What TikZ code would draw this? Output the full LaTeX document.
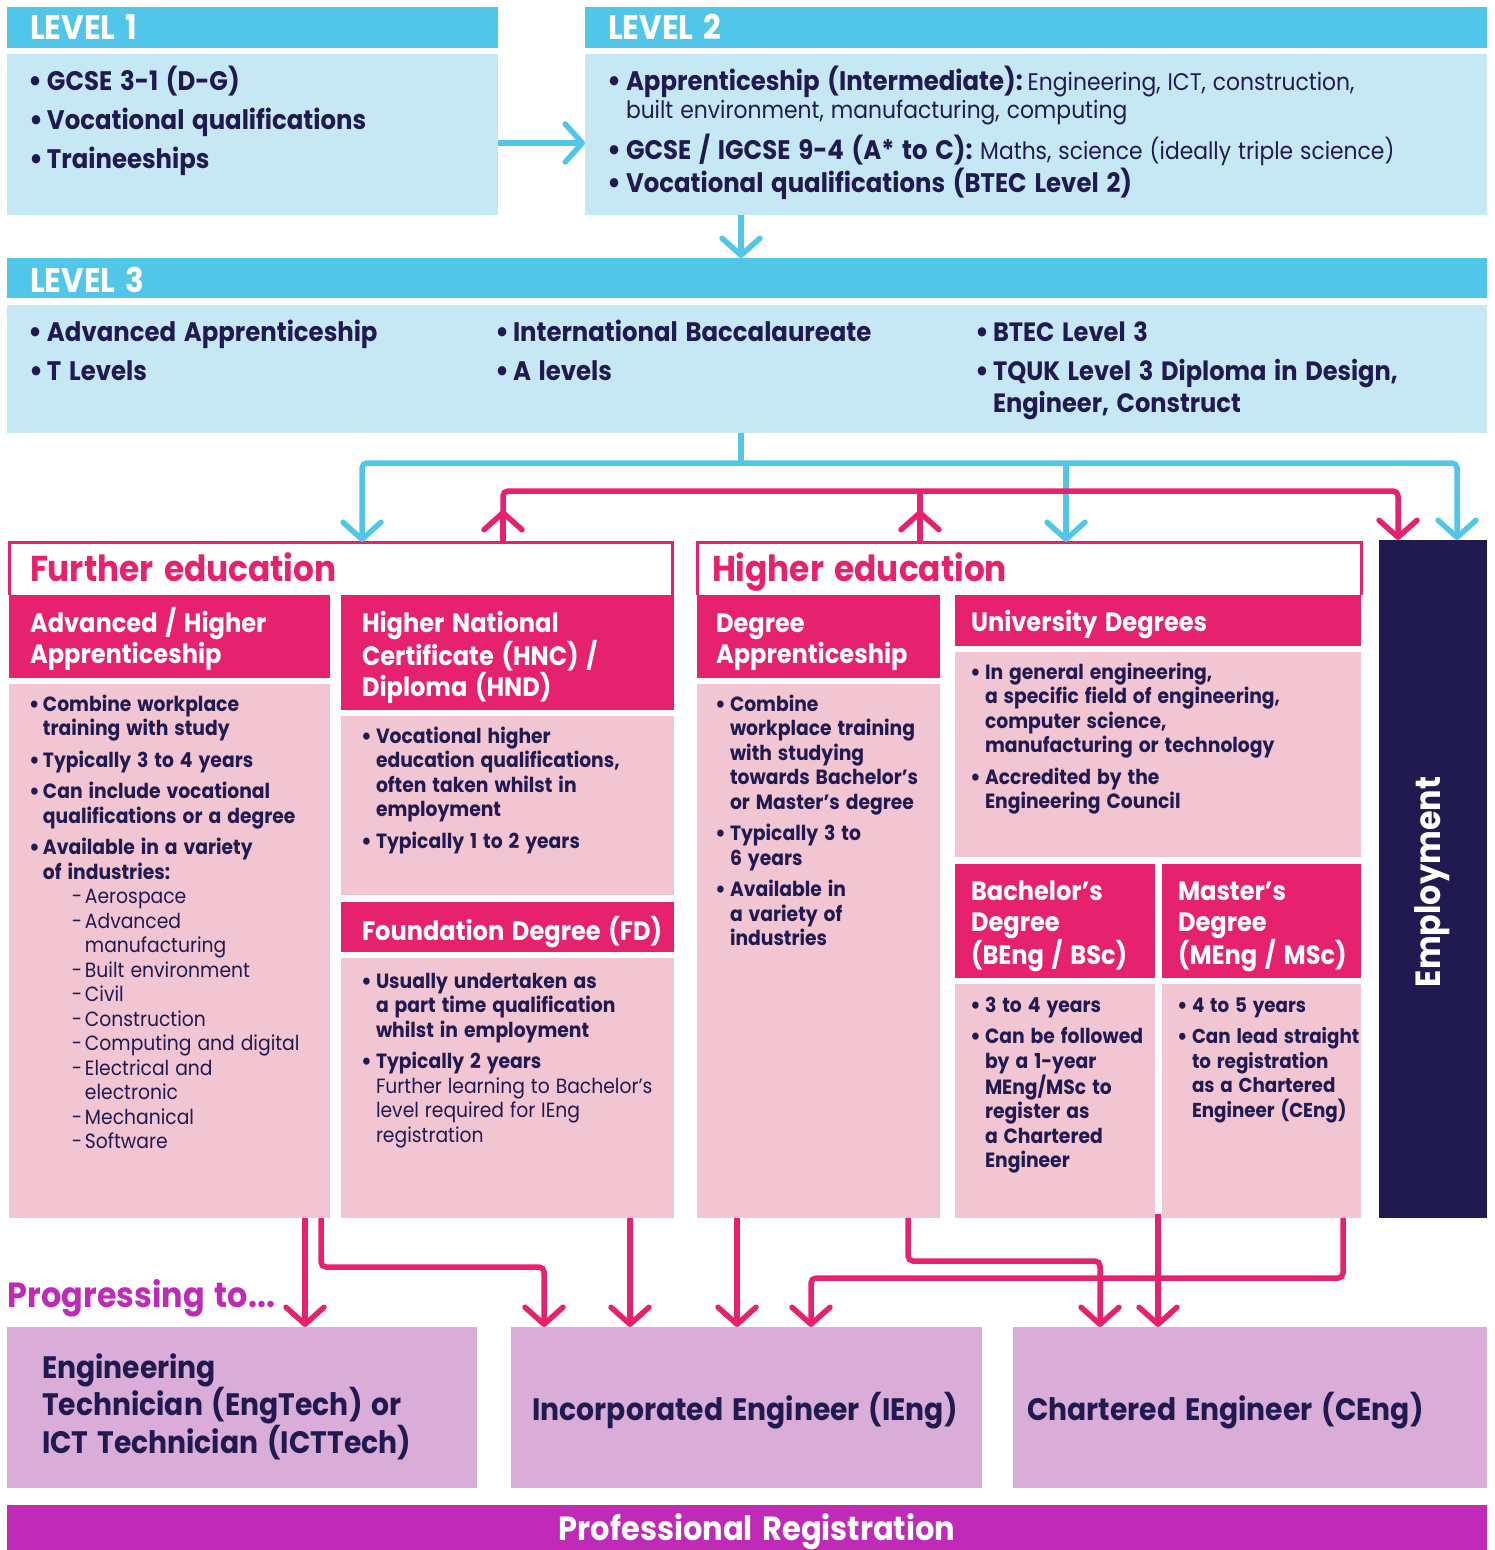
\documentclass[tikz,border=0pt]{standalone}
\usepackage{fontspec}
\usepackage{graphicx}
\setmainfont{Poppins}[FakeStretch=0.91]
\usetikzlibrary{arrows.meta}
\definecolor{cyanH}{HTML}{52C6E9}
\definecolor{lblue}{HTML}{C6E8F4}
\definecolor{pinkM}{HTML}{E6226F}
\definecolor{lpink}{HTML}{F2C5D2}
\definecolor{navy}{HTML}{201A50}
\definecolor{lav}{HTML}{DAADD8}
\definecolor{purp}{HTML}{BF2AB6}
\newcommand\wsp{\spaceskip=0.29em plus 0.1em minus 0.05em\relax}
\newcommand\bulsym{\raisebox{-0.05em}{\scalebox{1.15}{\textbullet}}}
\newcommand\bitem[2][13pt]{\hangindent=#1\relax\hangafter=1\noindent\makebox[#1][l]{\hspace{-1pt}\bulsym}#2}
\newcommand\sitem[1]{\hangindent=55pt\relax\hangafter=1\noindent\hspace*{42pt}\makebox[13pt][l]{-}#1}
\newcommand\igap[1][7pt]{\par\vspace{#1}}
\newcommand\fBody{\fontsize{20.6}{24.5}\selectfont\bfseries\wsp}
\newcommand\fHead{\fontsize{34}{36}\selectfont\bfseries\wsp}
\newcommand\fSub{\fontsize{26.5}{31.5}\selectfont\bfseries\wsp}
\newcommand\fLev{\fontsize{26.8}{39}\selectfont\bfseries\wsp}
\newcommand\fBig{\fontsize{31}{36.5}\selectfont\bfseries\wsp}
\newcommand\fLt{\mdseries\fontsize{24}{28}\selectfont\wsp}
\begin{document}
\begin{tikzpicture}[x=1pt,y=-1pt,
  box/.style={anchor=north west, inner sep=0pt, outer sep=0pt, draw=none},
  txt/.style={anchor=base west, inner sep=0pt, outer sep=0pt, align=left, text=navy},
  cline/.style={draw=cyanH, line width=5.5pt, rounded corners=5pt},
  pline/.style={draw=pinkM, line width=5.5pt, rounded corners=5pt},
  tip/.style={-{Straight Barb[length=17pt,width=38pt,round]}},
  dtip/.style={{Straight Barb[length=17pt,width=38pt,round]}-{Straight Barb[length=17pt,width=38pt,round]}},
  outl/.style={draw=pinkM, line width=3pt}
]
\useasboundingbox (0,0) rectangle (1494,1550);
% ---------- Level boxes
\node[box, fill=cyanH, minimum width=491pt, minimum height=41pt] (l1h) at (7,7) {};
\node[box, fill=lblue, minimum width=491pt, minimum height=161pt] (l1b) at (7,54) {};
\node[box, fill=cyanH, minimum width=902pt, minimum height=41pt] (l2h) at (585,7) {};
\node[box, fill=lblue, minimum width=902pt, minimum height=161pt] (l2b) at (585,54) {};
\node[box, fill=cyanH, minimum width=1480pt, minimum height=40pt] (l3h) at (7,258) {};
\node[box, fill=lblue, minimum width=1480pt, minimum height=128pt] (l3b) at (7,305) {};
\node[txt, text=white] (l1ht) at (30,39) {\fHead LEVEL 1};
\node[txt, text=white] (l2ht) at (608,39) {\fHead LEVEL 2};
\node[txt, text=white] (l3ht) at (30,292) {\fHead LEVEL 3};
\node[txt, text width=460pt] (l1t) at (30,90) {\fLev
  \bitem[17pt]{GCSE 3-1 (D-G)}\par
  \bitem[17pt]{Vocational qualifications}\par
  \bitem[17pt]{Traineeships}\par};
\node[txt, text width=880pt] (l2ta) at (608,90) {\fontsize{26.8}{28}\selectfont\bfseries\wsp
  \bitem[18pt]{Apprenticeship (Intermediate): {\fLt Engineering, ICT, construction,\newline built environment, manufacturing, computing}}\par};
\node[txt, text width=880pt] (l2tb) at (608,159) {\fontsize{26.8}{28}\selectfont\bfseries\wsp
  \bitem[18pt]{GCSE / IGCSE 9-4 (A* to C): {\fLt Maths, science (ideally triple science)}}\par};
\node[txt, text width=880pt] (l2tc) at (608,192) {\fontsize{26.8}{28}\selectfont\bfseries\wsp
  \bitem[18pt]{Vocational qualifications (BTEC Level 2)}\par};
\node[txt, text width=460pt] (l3ta) at (30,341) {\fLev
  \bitem[17pt]{Advanced Apprenticeship}\par
  \bitem[17pt]{T Levels}\par};
\node[txt, text width=460pt] (l3tb) at (496,341) {\fLev
  \bitem[17pt]{International Baccalaureate}\par
  \bitem[17pt]{A levels}\par};
\node[txt, text width=500pt] (l3tc) at (976,341) {\fontsize{26.5}{32}\selectfont\bfseries\wsp
  \bitem[17pt]{BTEC Level 3}\igap
  \bitem[17pt]{TQUK Level 3 Diploma in Design,\newline Engineer, Construct}\par};
% ---------- Further / Higher education
\node[box, minimum width=663pt, minimum height=53pt] (fe) at (9,542) {};
\node[box, minimum width=664pt, minimum height=53pt] (he) at (697,542) {};
\draw[outl] (fe.south west) -- (fe.north west) -- (fe.north east) -- (fe.south east);
\draw[outl] (he.south west) -- (he.north west) -- (he.north east) -- (he.south east);
\node[txt, text=pinkM] (fet) at (30,581) {\fontsize{36}{40}\selectfont\bfseries\wsp Further education};
\node[txt, text=pinkM] (het) at (712,581) {\fontsize{36}{40}\selectfont\bfseries\wsp Higher education};
\node[box, fill=pinkM, minimum width=321pt, minimum height=83pt] (aah) at (9,595) {};
\node[box, fill=lpink, minimum width=321pt, minimum height=534pt] (aab) at (9,684) {};
\node[box, fill=pinkM, minimum width=333pt, minimum height=115pt] (hnch) at (341,595) {};
\node[box, fill=lpink, minimum width=333pt, minimum height=179pt] (hncb) at (341,716) {};
\node[box, fill=pinkM, minimum width=333pt, minimum height=50pt] (fdh) at (341,902) {};
\node[box, fill=lpink, minimum width=333pt, minimum height=260pt] (fdb) at (341,958) {};
\node[box, fill=pinkM, minimum width=243pt, minimum height=83pt] (dah) at (697,595) {};
\node[box, fill=lpink, minimum width=243pt, minimum height=534pt] (dab) at (697,684) {};
\node[box, fill=pinkM, minimum width=406pt, minimum height=51pt] (udh) at (955,595) {};
\node[box, fill=lpink, minimum width=406pt, minimum height=205pt] (udb) at (955,652) {};
\node[box, fill=pinkM, minimum width=200pt, minimum height=114pt] (bah) at (955,864) {};
\node[box, fill=lpink, minimum width=200pt, minimum height=234pt] (bab) at (955,984) {};
\node[box, fill=pinkM, minimum width=199pt, minimum height=114pt] (mah) at (1162,864) {};
\node[box, fill=lpink, minimum width=199pt, minimum height=234pt] (mab) at (1162,984) {};
\node[box, fill=navy, minimum width=108pt, minimum height=678pt] (emp) at (1379,540) {};
\node[rotate=90, text=white, inner sep=0pt] (empt) at (1432,882) {\fontsize{35}{40}\selectfont\bfseries Employment};
% sub headers
\node[txt, text=white, text width=400pt] (aaht) at (30,632) {\fSub Advanced / Higher\\Apprenticeship\par};
\node[txt, text=white, text width=400pt] (hncht) at (362,632) {\fSub Higher National\\Certificate (HNC) /\\Diploma (HND)\par};
\node[txt, text=white, text width=400pt] (fdht) at (362,940) {\fSub Foundation Degree (FD)\par};
\node[txt, text=white, text width=400pt] (daht) at (716,632) {\fSub Degree\\Apprenticeship\par};
\node[txt, text=white, text width=400pt] (udht) at (971,631) {\fSub University Degrees\par};
\node[txt, text=white, text width=300pt] (baht) at (971,900) {\fSub Bachelor's\\Degree\\(BEng / BSc)\par};
\node[txt, text=white, text width=300pt] (maht) at (1178,900) {\fSub Master's\\Degree\\(MEng / MSc)\par};
% bodies
\node[txt, text width=400pt] (aabt) at (30,711) {\fBody
  \bitem{Combine workplace\newline training with study}\igap
  \bitem{Typically 3 to 4 years}\igap
  \bitem{Can include vocational\newline qualifications or a degree}\igap
  \bitem{Available in a variety\newline of industries:}\par\mdseries
  \sitem{Aerospace}\par
  \sitem{Advanced\newline manufacturing}\par
  \sitem{Built environment}\par
  \sitem{Civil}\par
  \sitem{Construction}\par
  \sitem{Computing and digital}\par
  \sitem{Electrical and\newline electronic}\par
  \sitem{Mechanical}\par
  \sitem{Software}\par};
\node[txt, text width=400pt] (hncbt) at (362,743) {\fBody
  \bitem[14pt]{Vocational higher\newline education qualifications,\newline often taken whilst in\newline employment}\igap
  \bitem[14pt]{Typically 1 to 2 years}\par};
\node[txt, text width=400pt] (fdbt) at (362,988) {\fBody
  \bitem[14pt]{Usually undertaken as\newline a part time qualification\newline whilst in employment}\igap
  \bitem[14pt]{Typically 2 years\newline {\mdseries Further learning to Bachelor's\newline level required for IEng\newline registration}}\par};
\node[txt, text width=400pt] (dabt) at (716,711) {\fBody
  \bitem[14pt]{Combine\newline workplace training\newline with studying\newline towards Bachelor's\newline or Master's degree}\igap
  \bitem[14pt]{Typically 3 to\newline 6 years}\igap
  \bitem[14pt]{Available in\newline a variety of\newline industries}\par};
\node[txt, text width=400pt] (udbt) at (971,679) {\fBody
  \bitem[14pt]{In general engineering,\newline a specific field of engineering,\newline computer science,\newline manufacturing or technology}\igap
  \bitem[14pt]{Accredited by the\newline Engineering Council}\par};
\node[txt, text width=300pt] (babt) at (971,1012) {\fBody
  \bitem[14pt]{3 to 4 years}\igap
  \bitem[14pt]{Can be followed\newline by a 1-year\newline MEng/MSc to\newline register as\newline a Chartered\newline Engineer}\par};
\node[txt, text width=300pt] (mabt) at (1178,1012) {\fontsize{20.1}{24.5}\selectfont\bfseries\wsp
  \bitem[14pt]{4 to 5 years}\igap
  \bitem[14pt]{Can lead straight\newline to registration\newline as a Chartered\newline Engineer (CEng)}\par};
% ---------- bottom
\node[txt, text=purp] (prog) at (8,1307) {\fontsize{35}{40}\selectfont\bfseries\wsp Progressing to...};
\node[box, fill=lav, minimum width=470pt, minimum height=161pt] (et) at (7,1327) {};
\node[box, fill=lav, minimum width=471pt, minimum height=161pt] (ie) at (511,1327) {};
\node[box, fill=lav, minimum width=474pt, minimum height=161pt] (ce) at (1013,1327) {};
\node[box, fill=purp, minimum width=1480pt, minimum height=45pt] (pr) at (7,1505) {};
\node[txt, text width=440pt] (ett) at (42,1378) {\fBig Engineering\\Technician (EngTech) or\\ICT Technician (ICTTech)\par};
\node[anchor=base, inner sep=0pt, text=navy] (iet) at (745,1420) {\fBig Incorporated Engineer (IEng)};
\node[txt] (cet) at (1027,1420) {\fBig Chartered Engineer (CEng)};
\node[anchor=base, inner sep=0pt, text=white] (prt) at (757,1540) {\fontsize{33.5}{38}\selectfont\bfseries\wsp Professional Registration};
% ---------- connectors
\coordinate (c1) at ([xshift=-6pt]l3b.south);
\coordinate (cy) at (0,463);
\coordinate (py) at (0,491);
\coordinate (upy) at (0,510);
\coordinate (xa) at (362,0);
\coordinate (xb) at (1066,0);
\coordinate (xc) at (1457,0);
\coordinate (xp1) at (503,0);
\coordinate (xp2) at (920,0);
\coordinate (xp3) at (1398,0);
\draw[cline, tip] ([yshift=-8.5pt]l1b.east) -- ([yshift=-8.5pt]l2b.west);
\draw[cline, tip] (l2b.south -| c1) -- (l3h.north -| c1);
\draw[cline] (c1) -- (c1 |- cy);
\draw[cline, dtip] (xa |- fe.north) -- (xa |- cy) -- (xc |- cy) -- (xc |- emp.north);
\draw[cline, tip] (xb |- cy) -- (xb |- he.north);
\draw[pline, tip] (xp1 |- fe.north) -- (xp1 |- py) -- (xp3 |- py) -- (xp3 |- emp.north);
\draw[pline] (xp2 |- he.north) -- (xp2 |- py);
\draw[pline, tip] (xp1 |- fe.north) -- (xp1 |- upy);
\draw[pline, tip] (xp2 |- he.north) -- (xp2 |- upy);
% bottom arrows
\coordinate (bx1) at (305,0);
\coordinate (bx2) at (321,0);
\coordinate (bx3) at (544,0);
\coordinate (bx4) at (630,0);
\coordinate (bx5) at (737,0);
\coordinate (bx6) at (908,0);
\coordinate (bx7) at (1100,0);
\coordinate (bx8) at (1343,0);
\coordinate (bx9) at (811,0);
\coordinate (bx10) at (1158,0);
\coordinate (yl1) at (0,1267);
\coordinate (yl2) at (0,1261);
\coordinate (yl3) at (0,1278);
\coordinate (bs) at ([yshift=4pt]bab.south);
\draw[pline, tip] (bx1 |- aab.south) -- (bx1 |- et.north);
\draw[pline, tip] (bx2 |- aab.south) -- (bx2 |- yl1) -- (bx3 |- yl1) -- (bx3 |- ie.north);
\draw[pline, tip] (bx4 |- fdb.south) -- (bx4 |- ie.north);
\draw[pline, tip] (bx5 |- dab.south) -- (bx5 |- ie.north);
\draw[pline, tip] (bx6 |- dab.south) -- (bx6 |- yl2) -- (bx7 |- yl2) -- (bx7 |- ce.north);
\draw[pline, tip] (bx8 |- mab.south) -- (bx8 |- yl3) -- (bx9 |- yl3) -- (bx9 |- ie.north);
\draw[pline, tip] (bx10 |- bs) -- (bx10 |- ce.north);
\end{tikzpicture}
\end{document}
